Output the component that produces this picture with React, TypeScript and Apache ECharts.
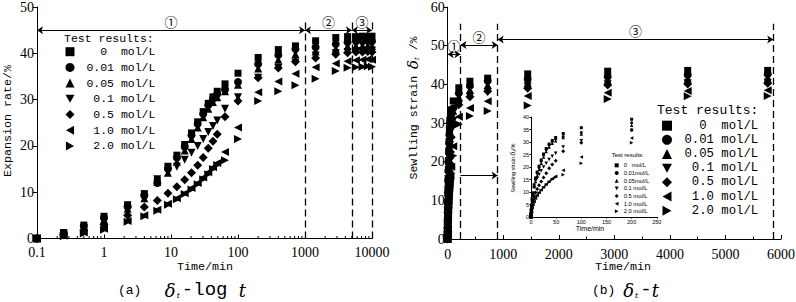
import React, { useEffect, useRef } from 'react';
import * as echarts from 'echarts';

// ---------- data ----------
const TIMES = [0.1, 0.25, 0.5, 1, 2.25, 4, 6.25, 9, 12.25, 16, 20.25, 25, 30.25, 36, 42.25, 49, 64, 100, 200, 400, 720, 1440, 2880, 4320, 5760, 7200, 8640, 10000];
const NAMES = ['0 mol/L', '0.01 mol/L', '0.05 mol/L', '0.1 mol/L', '0.5 mol/L', '1.0 mol/L', '2.0 mol/L'];
const S_0 = [0, 1.3, 2.9, 4.8, 7.3, 9.7, 12.5, 15.6, 18.0, 20.3, 22.8, 25.2, 27.4, 29.2, 30.6, 31.8, 33.4, 35.7, 39.1, 40.8, 41.6, 42.7, 43.4, 43.6, 43.6, 43.7, 43.6, 43.7];
const S_001 = [0, 1.2, 2.7, 4.5, 6.9, 9.3, 12.0, 15.0, 17.5, 19.8, 22.3, 24.8, 26.9, 28.8, 30.2, 31.2, 32.2, 33.8, 37.7, 39.6, 40.9, 41.3, 42.0, 42.4, 42.6, 42.6, 42.7, 42.6];
const S_005 = [0, 1.0, 2.4, 4.1, 6.4, 8.7, 12.2, 14.2, 16.5, 19.0, 21.5, 24.0, 26.2, 28.0, 29.5, 30.5, 31.8, 33.2, 36.7, 38.6, 39.8, 40.4, 41.0, 41.5, 41.6, 41.6, 41.7, 41.6];
const S_01 = [0, 0.9, 2.2, 3.8, 6.0, 8.6, 12.8, 14.5, 15.5, 17.0, 18.5, 20.0, 21.5, 23.0, 24.3, 25.5, 28.0, 30.5, 34.7, 36.8, 38.0, 39.5, 40.0, 40.3, 40.5, 40.5, 40.6, 40.6];
const S_05 = [0, 0.8, 1.8, 3.0, 5.0, 6.8, 8.2, 9.8, 11.2, 12.7, 14.2, 15.8, 17.5, 19.5, 21.0, 22.5, 26.3, 29.7, 34.7, 36.8, 38.2, 39.0, 39.8, 40.1, 40.3, 40.3, 40.4, 40.3];
const S_10 = [0, 0.6, 1.3, 2.1, 3.8, 5.0, 6.2, 7.5, 8.7, 9.8, 10.9, 12.0, 13.2, 14.3, 15.4, 16.3, 18.7, 24.0, 31.6, 33.9, 35.6, 37.0, 37.8, 38.3, 38.5, 38.6, 38.7, 38.6];
const S_20 = [0, 0.5, 1.1, 1.9, 3.6, 4.8, 6.0, 7.3, 8.5, 9.6, 10.6, 11.7, 12.8, 13.9, 15.0, 15.9, 16.9, 21.5, 29.7, 31.8, 33.1, 34.5, 36.2, 36.9, 37.0, 37.1, 37.2, 37.1];
const SERIES_VALUES = [S_0, S_001, S_005, S_01, S_05, S_10, S_20];

const LEFT_Y_TICKS = [0, 10, 20, 30, 40, 50];
const RIGHT_Y_TICKS = [0, 10, 20, 30, 40, 50, 60];
const RIGHT_X_TICKS = [0, 1000, 2000, 3000, 4000, 5000, 6000];
const INSET_X_TICKS = [0, 50, 100, 150, 200, 250];
const INSET_Y_TICKS = [0, 5, 10, 15, 20, 25, 30, 35, 40];

// stage boundaries (minutes) and annotation levels (%)
const LEFT_STAGES = [0.1, 1000, 5000, 10000];
const LEFT_STAGE_Y = 45;
const LEFT_DASH_TOP = 47;
const RIGHT_STAGES = [0, 230, 900, 5860];
const RIGHT_STAGE_Y = [47.8, 50.2, 51.6];
const RIGHT_DASH_TOP = 55.7;
const RIGHT_POINTER = [230, 900, 16.4];
const STAGE_LABELS = ['①', '②', '③'];

const LEGEND_LABELS_MAIN = ['  0  mol/L', '0.01 mol/L', '0.05 mol/L', ' 0.1 mol/L', ' 0.5 mol/L', ' 1.0 mol/L', ' 2.0 mol/L'];
const LEGEND_LABELS_INSET = ['0   mol/L', '0.01mol/L', '0.05mol/L', '0.1 mol/L', '0.5 mol/L', '1.0 mol/L', '2.0 mol/L'];

// ---------- styles ----------
const MONO = 'Liberation Mono, monospace';
const SERIF = 'Liberation Serif, serif';
const ITALIC_SERIF = 'DejaVu Serif, serif';
const SANS = 'Liberation Sans, sans-serif';
const CJK = 'Noto Sans CJK SC, sans-serif';
const SYMBOLS = ['rect', 'circle', 'triangle', 'triangle', 'diamond', 'triangle', 'triangle'];
const ROTATE = [0, 0, 0, 180, 0, 90, -90];
const LEGEND_ICONS = ['rect', 'circle', 'triangle', 'path://M0,0L10,0L5,9Z', 'diamond', 'path://M9,0L9,10L0,5Z', 'path://M0,0L9,5L0,10Z'];
const SIZE_MAIN = [7, 8, 8, 8, 9, 8, 8];
const SIZE_INSET = [3, 3, 3.5, 3.5, 4, 3.5, 3.5];
const nb = (s: string) => s.replace(/ /g, '\u00a0');

function buildOption() {
  const black = '#000';
  const dash = [7, 4];
  const arrowPair = (x1: number, x2: number, y: number, label: string) => [
    {
      coord: [x1, y], symbol: 'arrow',
      label: { show: true, position: 'insideMiddleTop', formatter: label, fontFamily: CJK, fontSize: 13, color: black, distance: 2 },
    },
    { coord: [x2, y], symbol: 'arrow' },
  ];
  const dashPair = (x: number, top: number) => [
    { coord: [x, 0], symbol: 'none', lineStyle: { type: dash, width: 1.3 } },
    { coord: [x, top], symbol: 'none' },
  ];

  const markBase = {
    silent: true, animation: false, symbolSize: 6, symbol: ['none', 'none'],
    label: { show: false },
    lineStyle: { color: black, width: 1, type: 'solid' },
    emphasis: { disabled: true },
  };
  const leftMarks = {
    ...markBase,
    data: [
      dashPair(LEFT_STAGES[1], LEFT_DASH_TOP),
      dashPair(LEFT_STAGES[2], LEFT_DASH_TOP),
      dashPair(LEFT_STAGES[3], LEFT_DASH_TOP),
      arrowPair(LEFT_STAGES[0], LEFT_STAGES[1], LEFT_STAGE_Y, STAGE_LABELS[0]),
      arrowPair(LEFT_STAGES[1], LEFT_STAGES[2], LEFT_STAGE_Y, STAGE_LABELS[1]),
      arrowPair(LEFT_STAGES[2], LEFT_STAGES[3], LEFT_STAGE_Y, STAGE_LABELS[2]),
    ],
  };
  const rightMarks = {
    ...markBase,
    data: [
      dashPair(RIGHT_STAGES[1], RIGHT_DASH_TOP),
      dashPair(RIGHT_STAGES[2], RIGHT_DASH_TOP),
      dashPair(RIGHT_STAGES[3], RIGHT_DASH_TOP),
      arrowPair(RIGHT_STAGES[0], RIGHT_STAGES[1], RIGHT_STAGE_Y[0], STAGE_LABELS[0]),
      arrowPair(RIGHT_STAGES[1], RIGHT_STAGES[2], RIGHT_STAGE_Y[1], STAGE_LABELS[1]),
      arrowPair(RIGHT_STAGES[2], RIGHT_STAGES[3], RIGHT_STAGE_Y[2], STAGE_LABELS[2]),
      [
        { coord: [RIGHT_POINTER[0], RIGHT_POINTER[2]], symbol: 'none' },
        { coord: [RIGHT_POINTER[1], RIGHT_POINTER[2]], symbol: 'arrow' },
      ],
    ],
  };

  const series: any[] = [];
  SERIES_VALUES.forEach((vals, i) => {
    const pts = TIMES.map((t, j) => [t, vals[j]]);
    const base = {
      type: 'scatter', name: NAMES[i], symbol: SYMBOLS[i], symbolRotate: ROTATE[i],
      itemStyle: { color: black, opacity: 1 }, silent: true, emphasis: { disabled: true },
    };
    series.push({ ...base, xAxisIndex: 0, yAxisIndex: 0, symbolSize: SIZE_MAIN[i], data: pts, markLine: i === 0 ? leftMarks : undefined });
    series.push({ ...base, xAxisIndex: 1, yAxisIndex: 1, symbolSize: SIZE_MAIN[i], data: pts.filter((p) => p[0] <= 6000), markLine: i === 0 ? rightMarks : undefined });
    series.push({ ...base, xAxisIndex: 2, yAxisIndex: 2, symbolSize: SIZE_INSET[i], data: pts.filter((p) => p[0] <= 250) });
  });

  // minor ticks of the log axis, placed through the axis scale
  const logMinor: number[][] = [];
  for (let e = -1; e < 4; e++) for (let m = 2; m <= 9; m++) logMinor.push([m * Math.pow(10, e), 0]);
  series.push({
    type: 'custom', xAxisIndex: 0, yAxisIndex: 0, silent: true, clip: false, data: logMinor,
    renderItem: (_p: any, api: any) => {
      const p = api.coord([api.value(0), 0]);
      return { type: 'line', shape: { x1: p[0], y1: p[1], x2: p[0], y2: p[1] - 2.5 }, style: { stroke: black, lineWidth: 1 } };
    },
  });

  const axisLine = { show: true, onZero: false, lineStyle: { color: black, width: 1 } };
  const numFmt = (v: number) => String(+Number(v).toPrecision(6));
  const mainLabel = { color: black, fontFamily: SERIF, fontSize: 14, formatter: numFmt };
  const insetLabel = { color: black, fontFamily: SANS, fontSize: 5.5, margin: 2, formatter: numFmt };

  const legendData = NAMES.map((n, i) => ({ name: n, icon: LEGEND_ICONS[i] }));
  const legendBase = { orient: 'vertical', padding: 0, itemGap: 0, selectedMode: false, data: legendData };

  return {
    animation: false,
    backgroundColor: '#fff',
    grid: [
      { left: 37, top: 7, width: 335, height: 231.5, containLabel: false, outerBoundsMode: 'none' },
      { left: 447.7, top: 7, width: 333.3, height: 232, containLabel: false, outerBoundsMode: 'none' },
      { left: 531, top: 117, width: 125.8, height: 100, containLabel: false, outerBoundsMode: 'none' },
    ],
    xAxis: [
      {
        type: 'log', gridIndex: 0, logBase: 10, min: 0.1, max: 10000,
        axisLine, axisTick: { show: true, inside: true, length: 4, lineStyle: { color: black } },
        splitLine: { show: false }, axisLabel: { ...mainLabel, margin: 7 },
      },
      {
        type: 'value', gridIndex: 1, min: RIGHT_X_TICKS[0], max: RIGHT_X_TICKS[RIGHT_X_TICKS.length - 1], interval: RIGHT_X_TICKS[1] - RIGHT_X_TICKS[0],
        axisLine, axisTick: { show: true, inside: true, length: 4, lineStyle: { color: black } },
        minorTick: { show: true, splitNumber: 2, length: 2.5, lineStyle: { color: black } },
        splitLine: { show: false }, axisLabel: { ...mainLabel, margin: 8 },
      },
      {
        type: 'value', gridIndex: 2, min: INSET_X_TICKS[0], max: INSET_X_TICKS[INSET_X_TICKS.length - 1], interval: INSET_X_TICKS[1] - INSET_X_TICKS[0],
        axisLine, axisTick: { show: true, inside: false, length: 1.5, lineStyle: { color: black } },
        splitLine: { show: false }, axisLabel: insetLabel,
      },
    ],
    yAxis: [
      {
        type: 'value', gridIndex: 0, min: LEFT_Y_TICKS[0], max: LEFT_Y_TICKS[LEFT_Y_TICKS.length - 1], interval: LEFT_Y_TICKS[1] - LEFT_Y_TICKS[0],
        axisLine, axisTick: { show: true, inside: false, length: 4, lineStyle: { color: black } },
        splitLine: { show: false }, axisLabel: { ...mainLabel, margin: 3 },
      },
      {
        type: 'value', gridIndex: 1, min: RIGHT_Y_TICKS[0], max: RIGHT_Y_TICKS[RIGHT_Y_TICKS.length - 1], interval: RIGHT_Y_TICKS[1] - RIGHT_Y_TICKS[0],
        axisLine, axisTick: { show: true, inside: false, length: 4, lineStyle: { color: black } },
        splitLine: { show: false }, axisLabel: { ...mainLabel, margin: 3 },
      },
      {
        type: 'value', gridIndex: 2, min: INSET_Y_TICKS[0], max: INSET_Y_TICKS[INSET_Y_TICKS.length - 1], interval: INSET_Y_TICKS[1] - INSET_Y_TICKS[0],
        axisLine, axisTick: { show: true, inside: false, length: 1.5, lineStyle: { color: black } },
        splitLine: { show: false }, axisLabel: insetLabel,
      },
    ],
    legend: [
      {
        ...legendBase, left: 65.5, top: 43.85, itemWidth: 9, itemHeight: 9,
        textStyle: { fontFamily: MONO, fontSize: 11.5, lineHeight: 15.7, color: black },
        formatter: (n: string) => nb(' ' + LEGEND_LABELS_MAIN[NAMES.indexOf(n)]),
      },
      {
        ...legendBase, left: 662, top: 118.6, itemWidth: 10, itemHeight: 10,
        textStyle: { fontFamily: MONO, fontSize: 12.3, lineHeight: 14.17, color: black },
        formatter: (n: string) => nb(' ' + LEGEND_LABELS_MAIN[NAMES.indexOf(n)]),
      },
      {
        ...legendBase, left: 614.7, top: 161.5, itemWidth: 4, itemHeight: 4,
        textStyle: { fontFamily: SANS, fontSize: 5.8, lineHeight: 7.67, color: black },
        formatter: (n: string) => nb(LEGEND_LABELS_INSET[NAMES.indexOf(n)]),
      },
    ],
    graphic: [
      { type: 'text', x: 64, y: 38, style: { text: 'Test results:', fontFamily: MONO, fontSize: 11.5, fill: black, align: 'left', verticalAlign: 'middle' } },
      { type: 'text', x: 657, y: 110, style: { text: 'Test results:', fontFamily: MONO, fontSize: 13, fill: black, align: 'left', verticalAlign: 'middle' } },
      { type: 'text', x: 611.7, y: 155.3, style: { text: 'Test results:', fontFamily: SANS, fontSize: 6, fill: black, align: 'left', verticalAlign: 'middle' } },
      { type: 'text', x: 205, y: 267, style: { text: 'Time/min', fontFamily: MONO, fontSize: 11.7, fill: black, align: 'center', verticalAlign: 'middle' } },
      { type: 'text', x: 623, y: 267, style: { text: 'Time/min', fontFamily: MONO, fontSize: 11.7, fill: black, align: 'center', verticalAlign: 'middle' } },
      { type: 'text', x: 590, y: 228.5, style: { text: 'Time/min', fontFamily: SANS, fontSize: 7, fill: black, align: 'center', verticalAlign: 'middle' } },
      { type: 'text', x: 8, y: 121, rotation: Math.PI / 2, style: { text: 'Expansion rate/%', fontFamily: MONO, fontSize: 11.7, fill: black, align: 'center', verticalAlign: 'middle' } },
      {
        type: 'text', x: 413, y: 108, rotation: Math.PI / 2,
        style: {
          text: '{a|Sewlling strain }{d|δ}{s|t}{a| /%}', align: 'center', verticalAlign: 'middle', fill: black,
          rich: {
            a: { fontFamily: MONO, fontSize: 11.5, fill: black },
            d: { fontFamily: ITALIC_SERIF, fontStyle: 'italic', fontSize: 15, fill: black },
            s: { fontFamily: ITALIC_SERIF, fontStyle: 'italic', fontSize: 7, fill: black, verticalAlign: 'bottom' },
          },
        },
      },
      {
        type: 'text', x: 513, y: 168, rotation: Math.PI / 2,
        style: {
          text: '{a|Sewlling strain }{d|δ}{s|t}{a|/%}', align: 'center', verticalAlign: 'middle', fill: black,
          rich: {
            a: { fontFamily: SANS, fontSize: 5.5, fill: black },
            d: { fontFamily: ITALIC_SERIF, fontStyle: 'italic', fontSize: 6.5, fill: black },
            s: { fontFamily: ITALIC_SERIF, fontStyle: 'italic', fontSize: 4, fill: black, verticalAlign: 'bottom' },
          },
        },
      },
      {
        type: 'text', x: 118, y: 290,
        style: {
          text: '{a|(a)\u00a0\u00a0\u00a0}{d|δ}{s|t}{l|-log\u00a0}{d|t}', align: 'left', verticalAlign: 'middle', fill: black,
          rich: {
            a: { fontFamily: MONO, fontSize: 13, fill: black },
            d: { fontFamily: ITALIC_SERIF, fontStyle: 'italic', fontSize: 18, fill: black },
            s: { fontFamily: ITALIC_SERIF, fontStyle: 'italic', fontSize: 8, fill: black, verticalAlign: 'bottom', padding: [0, 2, 0, 1] },
            l: { fontFamily: MONO, fontSize: 19, fill: black },
          },
        },
      },
      {
        type: 'text', x: 592, y: 290,
        style: {
          text: '{a|(b)\u00a0}{d|δ}{s|t}{l|-}{d|t}', align: 'left', verticalAlign: 'middle', fill: black,
          rich: {
            a: { fontFamily: MONO, fontSize: 13, fill: black },
            d: { fontFamily: ITALIC_SERIF, fontStyle: 'italic', fontSize: 18, fill: black },
            s: { fontFamily: ITALIC_SERIF, fontStyle: 'italic', fontSize: 8, fill: black, verticalAlign: 'bottom', padding: [0, 2, 0, 1] },
            l: { fontFamily: MONO, fontSize: 19, fill: black },
          },
        },
      },
    ],
    series,
  };
}

export default function App() {
  const ref = useRef<HTMLDivElement>(null);
  useEffect(() => {
    if (!ref.current) return;
    const chart = echarts.init(ref.current, undefined, { renderer: 'svg' });
    chart.setOption(buildOption() as any);
    return () => chart.dispose();
  }, []);
  return <div ref={ref} style={{ position: 'fixed', left: 0, top: 0, width: 796, height: 302, background: '#fff' }} />;
}
